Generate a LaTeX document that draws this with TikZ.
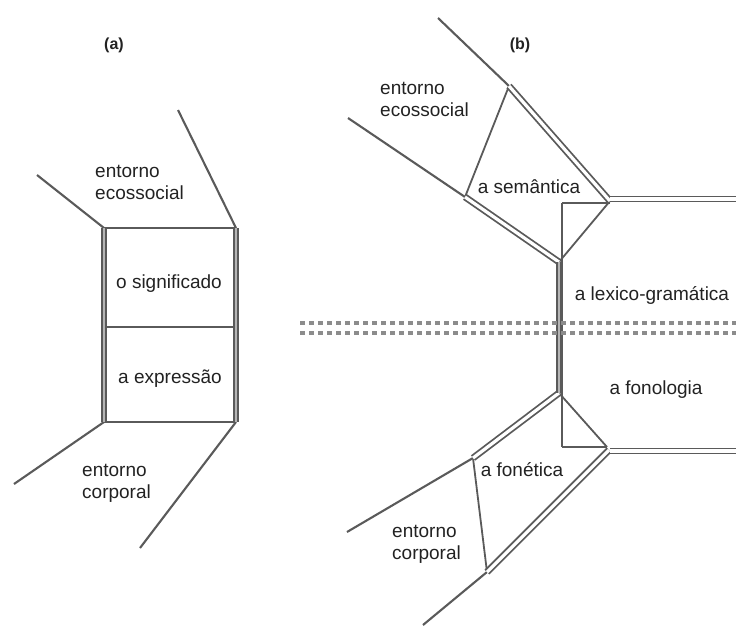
\documentclass[tikz,border=0pt]{standalone}
\usepackage{fontspec}
\setmainfont{Liberation Sans}
\definecolor{linegray}{HTML}{5A5A5A}
\definecolor{textgray}{HTML}{222222}
\definecolor{bargray}{HTML}{B5B5B5}
\definecolor{dotgray}{HTML}{8C8C8C}
\begin{document}
\begin{tikzpicture}[x=1pt,y=-1pt,
  ln/.style={draw=linegray,line width=2.1pt},
  thin/.style={draw=linegray,line width=1.8pt},
  dbl/.style={draw=linegray,line width=1.8pt,double=white,double distance=3.2pt},
  bar/.style={draw=linegray,line width=1.8pt,double=bargray,double distance=2.4pt},
  lbl/.style={font=\fontsize{19}{22}\selectfont,text=textgray,inner sep=0pt,align=left},
  tag/.style={font=\fontsize{16}{18}\selectfont\bfseries,text=textgray,inner sep=0pt},
  dots/.style={draw=dotgray,line width=4pt,dash pattern=on 5pt off 4pt}]
\useasboundingbox (0,0) rectangle (736,627);

% ---------- (a) ----------
\coordinate (aTL) at (104,228);
\coordinate (aTR) at (236,228);
\coordinate (aML) at (104,327);
\coordinate (aMR) at (236,327);
\coordinate (aBL) at (104,422);
\coordinate (aBR) at (236,422);
\coordinate (aUL) at (37,175);
\coordinate (aUR) at (178,110);
\coordinate (aLL) at (14,484);
\coordinate (aLR) at (140,548);

\draw[ln] (aUL) -- (aTL);
\draw[ln] (aUR) -- (aTR);
\draw[ln] (aLL) -- (aBL);
\draw[ln] (aLR) -- (aBR);
\draw[thin] (aTL) -- (aTR);
\draw[thin] (aML) -- (aMR);
\draw[thin] (aBL) -- (aBR);
\draw[bar] (aTL) -- (aBL);
\draw[bar] (aTR) -- (aBR);

\node[tag] (taga) at (114,45) {(a)};
\node[lbl,anchor=west] (ecoa) at (95,182) {entorno\\ecossocial};
\node[lbl] (sig) at (169,284) {o significado};
\node[lbl] (exp) at (170,379) {a expressão};
\node[lbl,anchor=west] (cora) at (82,483) {entorno\\corporal};

% ---------- (b) ----------
\coordinate (J1) at (559,262);
\coordinate (J2) at (559,393);
\coordinate (iTL) at (562,203);
\coordinate (iTR) at (610,203);
\coordinate (iBL) at (562,447);
\coordinate (iBR) at (607,447);
\coordinate (tS) at (610,199);
\coordinate (tE) at (737,199);
\coordinate (bS) at (610,451);
\coordinate (bE) at (737,451);
% semantic stratum
\coordinate (sL) at (465,197);
\coordinate (sT) at (509,86);
\coordinate (sR) at (610,201);
\coordinate (eUL) at (348,118);
\coordinate (eUT) at (438,18);
% phonetic stratum
\coordinate (pL) at (473,458);
\coordinate (pB) at (487,572);
\coordinate (pR) at (609,450);
\coordinate (eLL) at (347,532);
\coordinate (eLB) at (423,625);
% stratification line
\coordinate (d1S) at (300,323);
\coordinate (d1E) at (736,323);
\coordinate (d2S) at (300,333);
\coordinate (d2E) at (736,333);

\draw[thin] (iTL) -- (iTR);
\draw[thin] (iTL) -- (iBL);
\draw[thin] (iBL) -- (iBR);

\draw[ln] (eUL) -- (sL);
\draw[ln] (eUT) -- (sT);
\draw[thin] (sL) -- (sT);
\draw[thin] (sR) -- (J1);
\draw[dbl] (sL) -- (J1);
\draw[dbl] (sT) -- (sR);
\draw[dbl] (tS) -- (tE);

\draw[ln] (eLL) -- (pL);
\draw[ln] (eLB) -- (pB);
\draw[thin] (pL) -- (pB);
\draw[thin] (J2) -- (iBR);
\draw[dbl] (pL) -- (J2);
\draw[dbl] (pB) -- (pR);
\draw[dbl] (bS) -- (bE);

\draw[bar] (J1) -- (J2);

\draw[dots] (d1S) -- (d1E);
\draw[dots] (d2S) -- (d2E);

\node[tag] (tagb) at (520,45) {(b)};
\node[lbl,anchor=west] (ecob) at (380,99) {entorno\\ecossocial};
\node[lbl] (sem) at (529,187) {a semântica};
\node[lbl] (lex) at (652,295) {a lexico-gramática};
\node[lbl] (fon) at (656,390) {a fonologia};
\node[lbl] (fnt) at (522,470) {a fonética};
\node[lbl,anchor=west] (corb) at (392,544) {entorno\\corporal};
\end{tikzpicture}
\end{document}
